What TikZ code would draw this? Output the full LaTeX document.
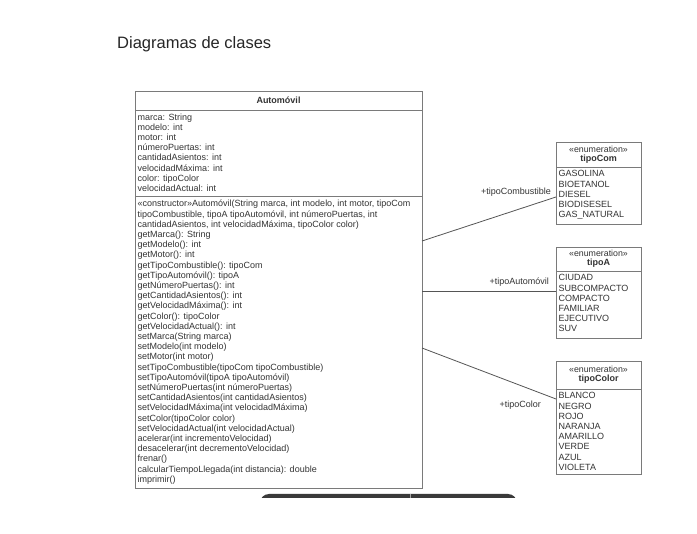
\documentclass[tikz,border=0pt]{standalone}
\usepackage{fontspec}
\setmainfont{Liberation Sans}
\usetikzlibrary{positioning}
\definecolor{txtgray}{HTML}{333333}
\definecolor{boxgray}{HTML}{7A7A7A}
\definecolor{linegray}{HTML}{555555}
\definecolor{bargray}{HTML}{3A3A3A}

\begin{document}
\begin{tikzpicture}[x=1pt,y=-1pt,
    font=\fontsize{9}{10.2}\selectfont, text=txtgray,
    classbox/.style={draw=boxgray, line width=0.8pt, fill=white, inner sep=0pt, outer sep=0pt, anchor=north west},
    members/.style={anchor=north west, align=left, inner sep=0pt},
    stereo/.style={font=\fontsize{8.8}{10}\selectfont, inner sep=0pt},
    assoc/.style={draw=linegray, line width=0.8pt},
    rolename/.style={inner sep=0pt}]

    \useasboundingbox[fill=white] (0,0) rectangle (697,534);

    % title
    \node[anchor=west, inner sep=0pt, font=\fontsize{16.5}{18}\selectfont, text=black!85] (title) at (117,44) {Diagramas de clases};

    % class Automovil
    \node[classbox, minimum width=287pt, minimum height=397pt] (car) at (135,91) {};
    \node[font=\fontsize{9}{10.2}\selectfont\bfseries] (carname) at (278.5,100.5) {Automóvil};
    \draw[boxgray, line width=0.8pt] (car.west |- 0,110) -- (car.east |- 0,110);
    \draw[boxgray, line width=0.8pt] (car.west |- 0,196) -- (car.east |- 0,196);
    \node[members] (attrs) at (137.5,113.3) {marca: String\\
        modelo: int\\
        motor: int\\
        númeroPuertas: int\\
        cantidadAsientos: int\\
        velocidadMáxima: int\\
        color: tipoColor\\
        velocidadActual: int};
    \node[members] (ops) at (137.5,200) {«constructor»Automóvil(String marca, int modelo, int motor, tipoCom\\
        tipoCombustible, tipoA tipoAutomóvil, int númeroPuertas, int\\
        cantidadAsientos, int velocidadMáxima, tipoColor color)\\
        getMarca(): String\\
        getModelo(): int\\
        getMotor(): int\\
        getTipoCombustible(): tipoCom\\
        getTipoAutomóvil(): tipoA\\
        getNúmeroPuertas(): int\\
        getCantidadAsientos(): int\\
        getVelocidadMáxima(): int\\
        getColor(): tipoColor\\
        getVelocidadActual(): int\\
        setMarca(String marca)\\
        setModelo(int modelo)\\
        setMotor(int motor)\\
        setTipoCombustible(tipoCom tipoCombustible)\\
        setTipoAutomóvil(tipoA tipoAutomóvil)\\
        setNúmeroPuertas(int númeroPuertas)\\
        setCantidadAsientos(int cantidadAsientos)\\
        setVelocidadMáxima(int velocidadMáxima)\\
        setColor(tipoColor color)\\
        setVelocidadActual(int velocidadActual)\\
        acelerar(int incrementoVelocidad)\\
        desacelerar(int decrementoVelocidad)\\
        frenar()\\
        calcularTiempoLlegada(int distancia): double\\
        imprimir()};

    % enumeration tipoCom
    \node[classbox, minimum width=85pt, minimum height=82pt] (com) at (556,142) {};
    \node[stereo] (comst) at (598.5,149) {«enumeration»};
    \node[font=\fontsize{9}{10.2}\selectfont\bfseries] (comname) at (598.5,159) {tipoCom};
    \draw[boxgray, line width=0.8pt] (com.west |- 0,167) -- (com.east |- 0,167);
    \node[members] (comlist) at (558.5,170.5) {GASOLINA\\ BIOETANOL\\ DIESEL\\ BIODISESEL\\ GAS\_NATURAL};

    % enumeration tipoA
    \node[classbox, minimum width=85pt, minimum height=91pt] (auto) at (556,247) {};
    \node[stereo] (autost) at (598.5,253.5) {«enumeration»};
    \node[font=\fontsize{9}{10.2}\selectfont\bfseries] (autoname) at (598.5,263.5) {tipoA};
    \draw[boxgray, line width=0.8pt] (auto.west |- 0,271) -- (auto.east |- 0,271);
    \node[members] (autolist) at (558.5,274.5) {CIUDAD\\ SUBCOMPACTO\\ COMPACTO\\ FAMILIAR\\ EJECUTIVO\\ SUV};

    % enumeration tipoColor
    \node[classbox, minimum width=85pt, minimum height=113pt] (col) at (556,361) {};
    \node[stereo] (colst) at (598.5,369) {«enumeration»};
    \node[font=\fontsize{9}{10.2}\selectfont\bfseries] (colname) at (598.5,379.5) {tipoColor};
    \draw[boxgray, line width=0.8pt] (col.west |- 0,389) -- (col.east |- 0,389);
    \node[members] (collist) at (558.5,392.5) {BLANCO\\ NEGRO\\ ROJO\\ NARANJA\\ AMARILLO\\ VERDE\\ AZUL\\ VIOLETA};

    % associations
    \draw[assoc] (car.east |- 0,241) -- (com.west |- 0,197);
    \draw[assoc] (car.east |- 0,291) -- (auto.west |- 0,291);
    \draw[assoc] (car.east |- 0,348) -- (col.west |- 0,399);
    \node[rolename, anchor=east] (r1) at (551,192.5) {+tipoCombustible};
    \node[rolename, anchor=east] (r2) at (549,282) {+tipoAutomóvil};
    \node[rolename, anchor=east] (r3) at (541,405) {+tipoColor};

    % cut-off bar at the bottom
    \begin{scope}
        \clip (0,0) rectangle (697,498);
        \fill[bargray, rounded corners=9pt] (260,494) rectangle (517,515);
    \end{scope}
    \draw[gray!70, line width=0.6pt] (410,494) -- (410,498);
\end{tikzpicture}
\end{document}
